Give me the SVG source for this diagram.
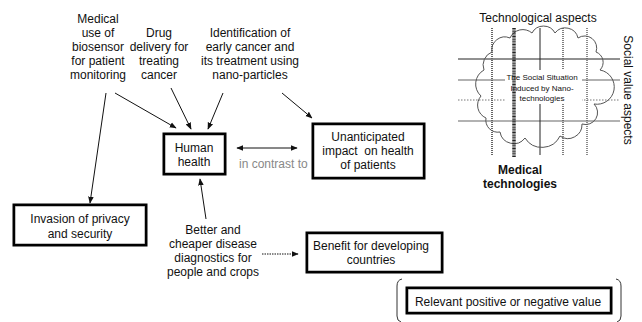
<svg xmlns="http://www.w3.org/2000/svg" width="642" height="322" viewBox="0 0 642 322">
<style>
text{font-family:"Liberation Sans",Arial,sans-serif;font-size:12px;fill:#111}
.box{fill:#fff;stroke:#000;stroke-width:3}
.dots{fill:none;stroke:#fff;stroke-width:1;stroke-dasharray:1 1}
.ar{stroke:#111;stroke-width:1;fill:none}
.c{text-anchor:middle}
.small{font-size:8px}
</style>
<defs>
<marker id="ah" viewBox="0 0 10 10" refX="9" refY="5" markerWidth="7" markerHeight="7" orient="auto-start-reverse" markerUnits="userSpaceOnUse">
<path d="M0,1 L10,5 L0,9 Z" fill="#111"/>
</marker>
</defs>
<rect width="642" height="322" fill="#fff"/>

<g id="label-biosensor">
<text class="c" x="98" y="23">Medical</text>
<text class="c" x="98" y="37">use of</text>
<text class="c" x="98" y="51">biosensor</text>
<text class="c" x="98" y="65">for patient</text>
<text class="c" x="98" y="79">monitoring</text>
</g>
<g id="label-drug">
<text class="c" x="159" y="37">Drug</text>
<text class="c" x="159" y="51">delivery for</text>
<text class="c" x="159" y="65">treating</text>
<text class="c" x="159" y="79">cancer</text>
</g>
<g id="label-identification">
<text class="c" x="250" y="37">Identification of</text>
<text class="c" x="250" y="51">early cancer and</text>
<text class="c" x="250" y="65">its treatment using</text>
<text class="c" x="250" y="79">nano-particles</text>
</g>
<g id="label-better">
<text class="c" x="213" y="234">Better and</text>
<text class="c" x="213" y="248">cheaper disease</text>
<text class="c" x="213" y="262">diagnostics for</text>
<text class="c" x="213" y="276">people and crops</text>
</g>

<g id="node-human">
<rect class="box" x="164" y="134" width="61" height="40"/>
<rect class="dots" x="165.5" y="135.5" width="58" height="37"/>
<text class="c" x="194" y="152">Human</text>
<text class="c" x="194" y="166">health</text>
</g>
<g id="node-invasion">
<rect class="box" x="14" y="205" width="132" height="40"/>
<rect class="dots" x="15.5" y="206.5" width="129" height="37"/>
<text class="c" x="80" y="223">Invasion of privacy</text>
<text class="c" x="80" y="238">and security</text>
</g>
<g id="node-unanticipated">
<rect class="box" x="313" y="124" width="111" height="54"/>
<rect class="dots" x="314.5" y="125.5" width="108" height="51"/>
<text class="c" x="368" y="141">Unanticipated</text>
<text class="c" x="368" y="155" xml:space="preserve">impact  on health</text>
<text class="c" x="368" y="169">of patients</text>
</g>
<g id="node-benefit">
<rect class="box" x="307" y="233" width="135" height="39"/>
<rect class="dots" x="308.5" y="234.5" width="132" height="36"/>
<text class="c" x="371" y="250">Benefit for developing</text>
<text class="c" x="371" y="264">countries</text>
</g>
<g id="node-relevant">
<path d="M402,279 Q397,280 397,286 L397,316 Q397,321 401,322" fill="none" stroke="#333" stroke-width="1"/>
<path d="M616,279 Q621,280 621,286 L621,316 Q621,321 617,322" fill="none" stroke="#333" stroke-width="1"/>
<rect class="box" x="407" y="288" width="204" height="25"/>
<rect class="dots" x="408.5" y="289.5" width="201" height="22"/>
<text class="c" x="508" y="306">Relevant positive or negative value</text>
</g>

<g id="connectors">
<line class="ar" x1="106" y1="93" x2="90" y2="203" marker-end="url(#ah)"/>
<line class="ar" x1="115" y1="93" x2="176" y2="128" marker-end="url(#ah)"/>
<line class="ar" x1="171" y1="88" x2="191" y2="129" marker-end="url(#ah)"/>
<line class="ar" x1="223" y1="93" x2="208" y2="129" marker-end="url(#ah)"/>
<line class="ar" x1="282" y1="93" x2="312" y2="118" marker-end="url(#ah)"/>
<line class="ar" x1="237" y1="148" x2="297" y2="148" marker-start="url(#ah)" marker-end="url(#ah)"/>
<line class="ar" x1="206" y1="219" x2="200" y2="179" marker-end="url(#ah)"/>
<line class="ar" x1="262" y1="254" x2="298" y2="254" stroke-dasharray="1.5 1" marker-end="url(#ah)"/>
<text x="239" y="168" style="fill:#888">in contrast to</text>
</g>

<g id="matrix">
<text class="c" x="538" y="22">Technological aspects</text>
<text class="c" transform="translate(624,90) rotate(90)">Social value aspects</text>
<text class="c" x="520" y="174" style="font-weight:bold">Medical</text>
<text class="c" x="520" y="188" style="font-weight:bold">technologies</text>
<line x1="458" y1="59" x2="620" y2="59" stroke="#222" stroke-width="1"/>
<line x1="458" y1="80" x2="620" y2="80" stroke="#999" stroke-width="1.5"/>
<line x1="458" y1="100" x2="620" y2="100" stroke="#777" stroke-width="1" stroke-dasharray="1.5 1.5"/>
<line x1="458" y1="121" x2="620" y2="121" stroke="#999" stroke-width="1.5"/>
<line x1="492" y1="28" x2="492" y2="155" stroke="#666" stroke-width="2" stroke-dasharray="1 1"/>
<line x1="540" y1="28" x2="540" y2="155" stroke="#222" stroke-width="1"/>
<line x1="563" y1="28" x2="563" y2="155" stroke="#555" stroke-width="1.5" stroke-dasharray="1 1"/>
<line x1="587" y1="28" x2="587" y2="155" stroke="#666" stroke-width="1.5" stroke-dasharray="1 1"/>
<path d="M492,52 A13,13 0 0 1 510,38 A14,14 0 0 1 532,33 A13,13 0 0 1 555,33 A13,13 0 0 1 578,38 A12,12 0 0 1 596,52 A11,11 0 0 1 600,70 A16,16 0 0 1 594,104 A12,12 0 0 1 582,124 A14,14 0 0 1 560,136 A20,20 0 0 1 525,138 A14,14 0 0 1 500,132 A12,12 0 0 1 486,118 A14,14 0 0 1 481,96 A16,16 0 0 1 484,70 A14,14 0 0 1 492,52 Z" fill="none" stroke="#555" stroke-width="1"/>
<rect x="505" y="70" width="77" height="34" fill="#fff"/>
<text class="c small" x="542" y="80">The Social Situation</text>
<text class="c small" x="542" y="91">Induced by Nano-</text>
<text class="c small" x="542" y="101">technologies</text>
<line x1="514" y1="28" x2="514" y2="157" stroke="#222" stroke-width="3.5" stroke-dasharray="1 0.6"/>
</g>
</svg>
